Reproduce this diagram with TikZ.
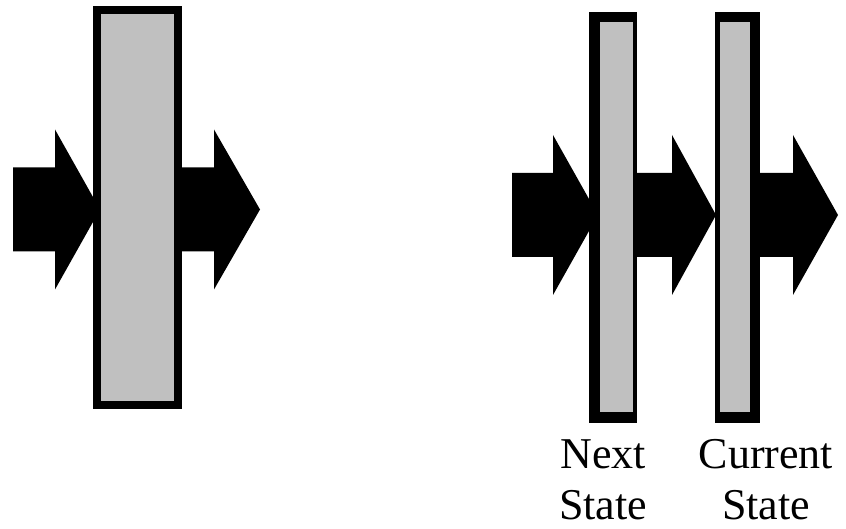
\documentclass[tikz,border=0pt]{standalone}
\usepackage{fontspec}
\setmainfont{Liberation Serif}
\definecolor{barfill}{RGB}{192,192,192}
\begin{document}
\begin{tikzpicture}[x=1pt,y=-1pt,
  fatarrow/.style={fill=black,draw=none},
  barouter/.style={fill=black,draw=none},
  barinner/.style={fill=barfill,draw=none},
  lbl/.style={font=\fontsize{44}{51}\selectfont,align=center,anchor=base,inner sep=0pt}]
\useasboundingbox (0,0) rectangle (846,529);
% ---- left diagram ----
\def\cy{209.5}
\fill[fatarrow] (13,\cy-42) -- (55,\cy-42) -- (55,\cy-80) -- (100,\cy) -- (55,\cy+80) -- (55,\cy+42) -- (13,\cy+42) -- cycle;
\fill[fatarrow] (178,\cy-42) -- (214,\cy-42) -- (214,\cy-80) -- (260,\cy) -- (214,\cy+80) -- (214,\cy+42) -- (178,\cy+42) -- cycle;
\fill[barouter] (93,6) rectangle (182,409);
\fill[barinner] (101,14) rectangle (174,401);
% ---- right diagram ----
\def\cy{215}
\fill[fatarrow] (512,\cy-42) -- (553,\cy-42) -- (553,\cy-80) -- (598,\cy) -- (553,\cy+80) -- (553,\cy+42) -- (512,\cy+42) -- cycle;
\fill[fatarrow] (634,\cy-42) -- (672,\cy-42) -- (672,\cy-80) -- (716,\cy) -- (672,\cy+80) -- (672,\cy+42) -- (634,\cy+42) -- cycle;
\fill[fatarrow] (757,\cy-42) -- (793,\cy-42) -- (793,\cy-80) -- (838,\cy) -- (793,\cy+80) -- (793,\cy+42) -- (757,\cy+42) -- cycle;
\fill[barouter] (589,12) rectangle (637,423);
\fill[barinner] (600,22) rectangle (633,412);
\fill[barouter] (715,12) rectangle (760,423);
\fill[barinner] (720,22) rectangle (750,412);
% ---- labels ----
\node[lbl] (next) at (603,519) {Next\\State};
\node[lbl] (current) at (766,519) {Current\\State};
\end{tikzpicture}
\end{document}
